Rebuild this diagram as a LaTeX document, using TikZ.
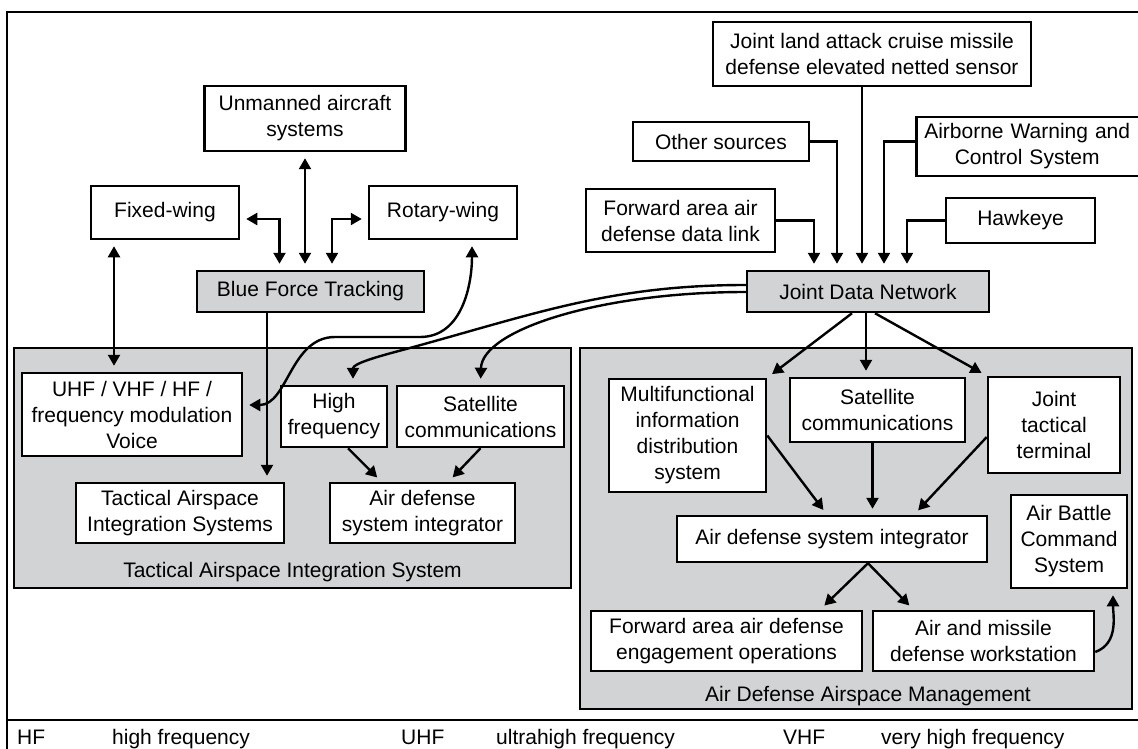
\documentclass[tikz,border=0pt]{standalone}
\usepackage{fontspec}
\setmainfont{Liberation Sans}
\usepackage{xcolor}
\usepackage{tikz}
\usetikzlibrary{positioning,calc,arrows.meta}
\definecolor{panel}{RGB}{209,211,212}

\begin{document}
\begin{tikzpicture}[x=1pt, y=-1pt,
    font=\fontsize{21}{26}\selectfont,
    box/.style={draw, line width=2.5pt, fill=white, align=center, inner sep=2pt},
    hub/.style={box, fill=panel},
    panelbox/.style={draw, line width=2.5pt, fill=panel, inner sep=0pt},
    plain/.style={inner sep=0pt},
    arr/.style={line width=2.4pt, -{Triangle[length=11pt,width=12pt]}, shorten >=6pt},
    darr/.style={line width=2.4pt, {Triangle[length=11pt,width=12pt]}-{Triangle[length=11pt,width=12pt]}, shorten >=6pt, shorten <=6pt}]
    \useasboundingbox (0,0) rectangle (1138,749);
    \clip (0,0) rectangle (1138,749);

    \draw[line width=2.6pt] (1160,12) -- (7,12) -- (7,760);
    \draw[line width=2.6pt] (7,720) -- (1160,720);

    \node (tais) [panelbox, minimum width=557, minimum height=240] at (292.5,468) {};
    \node (adam) [panelbox, minimum width=552, minimum height=361] at (856,528.5) {};
    \node (taislbl) [plain, anchor=base] at ([yshift=11.5]tais.south) {Tactical Airspace Integration System};
    \node (adamlbl) [plain, anchor=base] at ([xshift=12, yshift=8.5]adam.south) {Air Defense Airspace Management};

    \node (uas) [box, minimum width=201, minimum height=65] at (305,118.5) {Unmanned aircraft\\systems};
    \node (fixed) [box, minimum width=148, minimum height=53] at (165,212.5) {Fixed-wing};
    \node (rotary) [box, minimum width=148, minimum height=53] at (443,212.5) {Rotary-wing};
    \node (bft) [hub, minimum width=227, minimum height=41] at (310.5,291.5) {Blue Force Tracking};
    \node (radio) [box, minimum width=220, minimum height=83] at (132,414.5) {UHF / VHF / HF /\\frequency modulation\\Voice};
    \node (hf) [box, minimum width=106, minimum height=61] at (334,416.5) {High\\frequency};
    \node (satl) [box, minimum width=167, minimum height=61] at (480.5,416.5) {Satellite\\communications};
    \node (taisys) [box, minimum width=208, minimum height=60] at (180,513) {Tactical Airspace\\Integration Systems};
    \node (adsil) [box, minimum width=185, minimum height=60] at (422.5,513) {Air defense\\system integrator};

    \node (jlens) [box, minimum width=318, minimum height=64] at (872,54) {Joint land attack cruise missile\\defense elevated netted sensor};
    \node (other) [box, minimum width=176, minimum height=39] at (721,141.5) {Other sources};
    \node (awacs) [box, anchor=west, minimum height=59, text width=240, align=left, inner xsep=8] at (915,146.5) {\begin{tabular}{@{}c@{}}Airborne Warning and\\Control System\end{tabular}};
    \node (faaddl) [box, minimum width=189, minimum height=63] at (680.5,220.5) {Forward area air\\defense data link};
    \node (hawk) [box, minimum width=149, minimum height=45] at (1020.5,220.5) {Hawkeye};
    \node (jdn) [hub, minimum width=242, minimum height=41] at (868,291.5) {Joint Data Network};
    \node (mids) [box, minimum width=157, minimum height=113] at (687.5,435.5) {Multifunctional\\information\\distribution\\system};
    \node (satr) [box, minimum width=175, minimum height=64] at (877.5,410) {Satellite\\communications};
    \node (jtt) [box, minimum width=132, minimum height=96] at (1054,425) {Joint\\tactical\\terminal};
    \node (adsir) [box, minimum width=310, minimum height=46] at (832,539) {Air defense system integrator};
    \node (abcs) [box, minimum width=116, minimum height=93] at (1069,541.5) {Air Battle\\Command\\System};
    \node (faadeo) [box, minimum width=271, minimum height=60] at (726.5,641) {Forward area air defense\\engagement operations};
    \node (amdws) [box, minimum width=221, minimum height=60] at (983.5,641) {Air and missile\\defense workstation};

    \draw[darr] ([yshift=-6.5]fixed.east) -| ([xshift=-31]bft.north);
    \draw[darr] (uas.south) -- (uas.south |- bft.north);
    \draw[darr] ([yshift=-6.5]rotary.west) -| ([xshift=21.5]bft.north);
    \coordinate (fw) at ([xshift=-51]fixed.south);
    \draw[darr] (fw) -- (fw |- radio.north);
    \coordinate (bt) at ([xshift=-43.5]bft.south);
    \draw[arr] (bt) -- (bt |- taisys.north);
    \draw[darr] ([xshift=29]rotary.south) to[out=-90,in=0] (420,337) -- (335,337) to[out=180,in=0] ([yshift=9.5]radio.east);
    \draw[arr] ([yshift=6.5]jdn.west) to[out=180,in=15] (395,352) to[out=195,in=90] ([xshift=19]hf.north);
    \draw[arr] ([yshift=-0.5]jdn.west) .. controls (600,292) and (482,330) .. (satl.north);
    \draw[arr] ([xshift=14]hf.south) -- ([xshift=-41]adsil.north);
    \draw[arr] (satl.south) -- ([xshift=26]adsil.north);

    \coordinate (j1) at ([xshift=-54]jdn.north);
    \coordinate (j2) at ([xshift=-31]jdn.north);
    \coordinate (j3) at ([xshift=-6]jdn.north);
    \coordinate (j4) at ([xshift=16]jdn.north);
    \coordinate (j5) at ([xshift=39]jdn.north);
    \draw[arr] (faaddl.east) -| (j1);
    \draw[arr] (other.east) -| (j2);
    \draw[arr] (j3 |- jlens.south) -- (j3);
    \draw[arr] (awacs.west |- other.east) -| (j4);
    \draw[arr] (hawk.west) -| (j5);

    \draw[arr] ([xshift=-16]jdn.south) -- (mids.north east);
    \draw[arr] ([xshift=-2]jdn.south) -- ([xshift=-2]jdn.south |- satr.north);
    \draw[arr] ([xshift=7]jdn.south) -- (jtt.north west);
    \draw[arr] (mids.east) -- ([xshift=-5]adsir.north);
    \draw[arr] ([xshift=-5]satr.south) -- ([xshift=-5]satr.south |- adsir.north);
    \draw[arr] ([yshift=-12]jtt.west) -- ([xshift=82]adsir.north);
    \coordinate (split) at ([xshift=36]adsir.south);
    \draw[arr] (split) -- ([xshift=93.5]faadeo.north);
    \draw[arr] (split) -- ([xshift=-70]amdws.north);
    \draw[arr] ([yshift=-11]amdws.east) to[out=20,in=-90] ([xshift=44]abcs.south);

    \node (k1) [plain, anchor=base west] at (17,744.5) {HF};
    \node (v1) [plain, anchor=base west] at (112,744.5) {high frequency};
    \node (k2) [plain, anchor=base west] at (401,744.5) {UHF};
    \node (v2) [plain, anchor=base west] at (496,744.5) {ultrahigh frequency};
    \node (k3) [plain, anchor=base west] at (783,744.5) {VHF};
    \node (v3) [plain, anchor=base west] at (881,744.5) {very high frequency};
\end{tikzpicture}
\end{document}
